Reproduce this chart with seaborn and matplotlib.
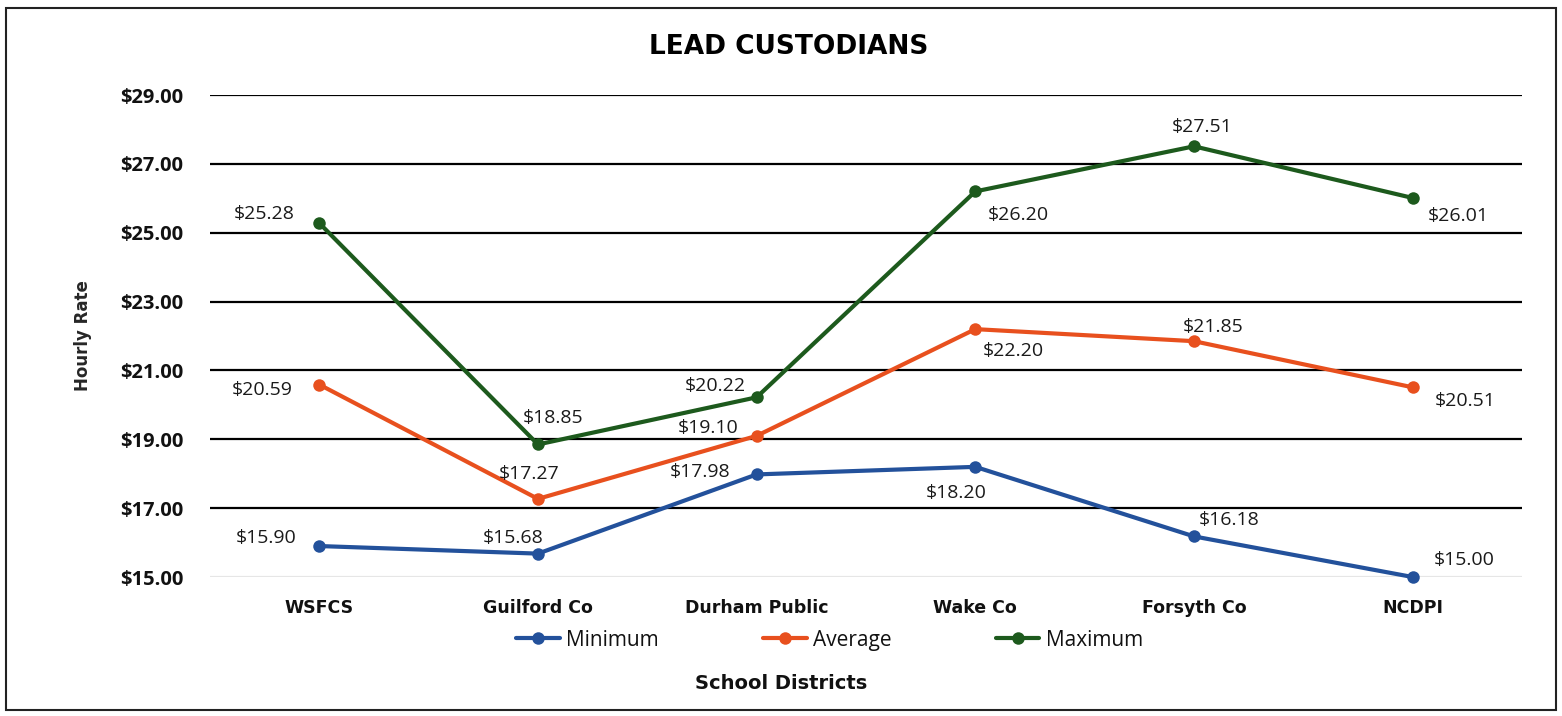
import matplotlib
matplotlib.use('Agg')
import matplotlib.pyplot as plt
import pandas as pd
import seaborn as sns
from matplotlib.patches import Rectangle

# Data
districts = ["WSFCS", "Guilford Co", "Durham Public", "Wake Co", "Forsyth Co", "NCDPI"]
minimum = [15.90, 15.68, 17.98, 18.20, 16.18, 15.00]
average = [20.59, 17.27, 19.10, 22.20, 21.85, 20.51]
maximum = [25.28, 18.85, 20.22, 26.20, 27.51, 26.01]
yticks = [15, 17, 19, 21, 23, 25, 27, 29]

series = {"Minimum": minimum, "Average": average, "Maximum": maximum}
colors = {"Minimum": "#23519b", "Average": "#e8501e", "Maximum": "#1d5a1d"}

# label offsets (points) per series, per district
offsets = {
    "Minimum": [(-38, 6), (-18, 11.5), (-41, 1.5), (-14, -19), (25, 12), (37, 12)],
    "Average": [(-41, -4), (-6, 18), (-35, 6), (27, -16), (14, 10), (38, -10)],
    "Maximum": [(-40, 6.5), (11, 19), (-30, 8), (31, -17), (6, 14), (33, -13)],
}

rows = []
for name, vals in series.items():
    for d, v in zip(districts, vals):
        rows.append({"District": d, "Rate": v, "Series": name})
df = pd.DataFrame(rows)

sns.set_style("white")
plt.rcParams['font.family'] = ['Open Sans', 'DejaVu Sans']
plt.rcParams['text.color'] = '#111111'
heavy = ['DejaVu Sans']

fig = plt.figure(figsize=(15.62, 7.16), dpi=100)
ax = fig.add_axes([0.1344, 0.1941, 0.84, 0.6732])

for y in yticks:
    ax.axhline(y, color="#e6e6e6" if y == 15 else "black", lw=1.6, zorder=1)

sns.lineplot(data=df, x="District", y="Rate", hue="Series", palette=colors,
             marker="o", markersize=9, markeredgewidth=0, linewidth=3,
             sort=False, ax=ax, zorder=3, clip_on=False, legend=True)

for name, vals in series.items():
    for i, v in enumerate(vals):
        ax.annotate(f"${v:.2f}", (i, v), xytext=offsets[name][i],
                    textcoords="offset points", ha="center", va="center",
                    fontsize=14, color="#1a1a1a")

ax.set_xlim(-0.5, 5.5)
ax.set_ylim(15, 29)
ax.set_yticks(yticks)
ax.set_yticklabels([f"${y:.2f}" for y in yticks], fontsize=14.5, fontweight="bold")
ax.set_xticks(range(len(districts)))
ax.set_xticklabels(districts, fontsize=12.5, fontweight="bold", family=heavy)
ax.tick_params(axis="y", length=0, pad=19, labelcolor="#111111")
ax.tick_params(axis="x", length=0, pad=16, labelcolor="#111111")
for s in ax.spines.values():
    s.set_visible(False)

ax.set_ylabel("Hourly Rate", fontsize=12, fontweight="bold", family=heavy, labelpad=20)
ax.set_xlabel("")
fig.text(0.5, 0.046, "School Districts", ha="center", va="center",
         fontsize=14, fontweight="bold", family=heavy)
fig.text(0.505, 0.934, "LEAD CUSTODIANS", ha="center", va="center",
         fontsize=19, fontweight="bold", family=heavy, color="black")

handles, labels = ax.get_legend_handles_labels()
ax.legend(handles, labels, loc="center", bbox_to_anchor=(0.531, 0.106),
          bbox_transform=fig.transFigure, ncol=3, frameon=False, fontsize=15,
          handlelength=2.1, handletextpad=0.3, columnspacing=5.0)

fig.patches.append(Rectangle((0.004, 0.008), 0.992, 0.981, transform=fig.transFigure,
                             fill=False, edgecolor="#222222", lw=1.5))

fig.savefig("out.png", dpi=100)
